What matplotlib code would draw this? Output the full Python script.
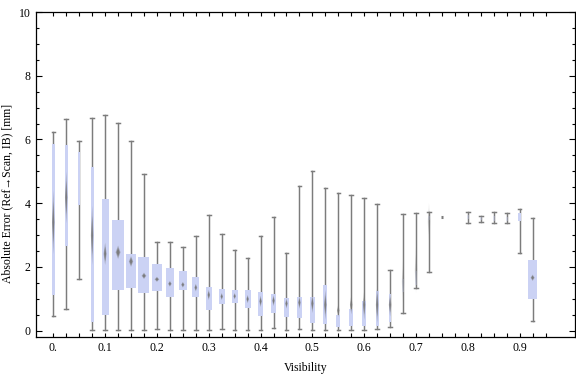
import numpy as np
import matplotlib.pyplot as plt
from matplotlib.patches import Rectangle, Polygon

# visibility bins (step 0.025), bin 0.775 has no data
visibility = [0.000, 0.025, 0.050, 0.075, 0.100, 0.125, 0.150, 0.175, 0.200, 0.225,
              0.250, 0.275, 0.300, 0.325, 0.350, 0.375, 0.400, 0.425, 0.450, 0.475,
              0.500, 0.525, 0.550, 0.575, 0.600, 0.625, 0.650, 0.675, 0.700, 0.725,
              0.750, 0.800, 0.825, 0.850, 0.875, 0.900, 0.925]
whisk_lo = [0.47, 0.67, 1.63, 0.02, 0.02, 0.02, 0.02, 0.02, 0.04, 0.02,
            0.01, 0.01, 0.01, 0.04, 0.01, 0.01, 0.01, 0.07, 0.01, 0.04,
            0.01, 0.01, 0.01, 0.01, 0.01, 0.05, 0.12, 0.55, 1.35, 1.85,
            3.58, 3.37, 3.42, 3.37, 3.37, 2.43, 0.29]
whisk_hi = [6.24, 6.63, 5.94, 6.66, 6.77, 6.51, 5.96, 4.91, 2.77, 2.77,
            2.62, 2.96, 3.62, 3.02, 2.53, 2.27, 2.96, 3.56, 2.43, 4.54,
            5.00, 4.47, 4.31, 4.25, 4.15, 3.97, 1.89, 3.65, 3.68, 3.73,
            3.58, 3.73, 3.60, 3.71, 3.68, 3.81, 3.53]
q1 = [1.13, 2.67, 3.94, 0.28, 0.49, 1.28, 1.35, 1.19, 1.25, 1.04,
      1.29, 1.07, 0.66, 0.85, 0.87, 0.72, 0.47, 0.56, 0.44, 0.41,
      0.25, 0.22, 0.11, 0.13, 0.16, 0.13, 0.28, 1.22, 1.43, 3.47,
      3.58, 3.50, 3.48, 3.45, 3.45, 3.45, 0.98]
q3 = [5.86, 5.83, 5.62, 5.13, 4.13, 3.47, 2.41, 2.31, 2.09, 1.97,
      1.87, 1.68, 1.38, 1.31, 1.28, 1.28, 1.21, 1.15, 1.03, 1.06,
      1.06, 1.43, 0.50, 0.68, 0.93, 1.25, 1.15, 1.63, 1.87, 3.61,
      3.58, 3.62, 3.56, 3.60, 3.58, 3.68, 2.22]
mean = [3.40, 4.18, np.nan, 2.99, 2.41, 2.46, 2.17, 1.72, 1.61, 1.47,
        1.44, 1.35, 1.12, 1.07, 1.08, 0.99, 0.92, 0.94, 0.85, 0.88,
        0.85, 0.81, 0.63, 0.81, 0.81, 0.81, 0.81, 1.54, 1.90, 3.42,
        np.nan, np.nan, np.nan, np.nan, np.nan, np.nan, 1.66]
mean_ci = [1.00, 0.81, 0.0, 0.93, 0.35, 0.21, 0.17, 0.10, 0.08, 0.09,
           0.09, 0.12, 0.16, 0.11, 0.10, 0.13, 0.18, 0.17, 0.16, 0.20,
           0.30, 0.47, 0.20, 0.30, 0.47, 0.57, 0.37, 0.68, 0.73, 0.58,
           0.0, 0.0, 0.0, 0.0, 0.0, 0.0, 0.10]
# relative sample weight -> box width
weight = [3.0, 2.7, 2.0, 3.0, 7.0, 11.3, 10.0, 11.0, 10.7, 8.3,
          8.0, 6.7, 6.0, 6.0, 6.0, 6.0, 5.0, 5.0, 4.7, 5.0,
          4.7, 4.3, 4.3, 4.0, 4.3, 3.0, 2.3, 2.3, 2.0, 2.0,
          0.0, 2.0, 2.0, 2.0, 2.0, 3.3, 9.3]
faint = [27, 28, 29, 31, 32, 33, 34]

box_col = '#cbd2f4'
line_col = '#7c7c7c'

plt.rcParams['font.family'] = ['Liberation Serif', 'DejaVu Serif']
fig = plt.figure(figsize=(5.76, 3.77), dpi=100)
ax = fig.add_axes([0.0625, 0.107, 0.9355, 0.861])

px = 0.025 / 12.958  # data units per pixel along x
cap = 1.8 * px
for i, x in enumerate(visibility):
    if weight[i] == 0:
        ax.plot([x - 1.2 * px, x + 1.2 * px], [whisk_lo[i], whisk_lo[i]], color=line_col, lw=2.2, solid_capstyle='butt')
        continue
    w = weight[i] * px
    ax.plot([x, x], [whisk_lo[i], whisk_hi[i]], color=line_col, lw=1.05, zorder=1)
    ax.plot([x - cap, x + cap], [whisk_lo[i], whisk_lo[i]], color=line_col, lw=1.05, zorder=1)
    ax.plot([x - cap, x + cap], [whisk_hi[i], whisk_hi[i]], color=line_col, lw=1.05, zorder=1)
    a = 0.35 if i in faint else 1.0
    ax.add_patch(Rectangle((x - w / 2, q1[i]), w, q3[i] - q1[i], facecolor=box_col, edgecolor='none', alpha=a, zorder=2))
    if not np.isnan(mean[i]) and mean_ci[i] > 0:
        hw = max(0.22 * w, 1.3 * px)
        hh = mean_ci[i]
        m = mean[i]
        for s, al in [(1.0, 0.45), (0.65, 0.9)]:
            ax.add_patch(Polygon([[x - hw * s, m], [x, m + hh * s], [x + hw * s, m], [x, m - hh * s]],
                                 closed=True, facecolor='#777777', edgecolor='none', alpha=al * a, zorder=3))

ax.set_xlim(-0.0334, 1.0065)
ax.set_ylim(-0.19, 10.0)

ax.set_xticks(np.arange(0, 1.0, 0.1))
ax.set_xticklabels(['0.', '0.1', '0.2', '0.3', '0.4', '0.5', '0.6', '0.7', '0.8', '0.9'])
ax.set_xticks(np.arange(0, 0.96, 0.025), minor=True)
ax.set_yticks(np.arange(0, 11, 2))
ax.set_yticks(np.arange(0, 10.01, 0.5), minor=True)
ax.tick_params(axis='both', which='both', direction='in', top=True, right=True, labelsize=8.5, width=0.8, colors='black')
ax.tick_params(axis='x', which='major', length=3.0, pad=4)
ax.tick_params(axis='x', which='minor', length=3.0)
ax.tick_params(axis='y', which='major', length=4.5, pad=4)
ax.tick_params(axis='y', which='minor', length=2.5)
for sp in ax.spines.values():
    sp.set_linewidth(0.9)

ax.set_xlabel('Visibility', fontsize=8.5)
ax.xaxis.set_label_coords(0.5, -0.078)
ax.set_ylabel('Absolute Error (Ref\u2192Scan, IB) [mm]', fontsize=8.5)
ax.yaxis.set_label_coords(-0.043, 0.44)

fig.savefig('out.png', dpi=100)
